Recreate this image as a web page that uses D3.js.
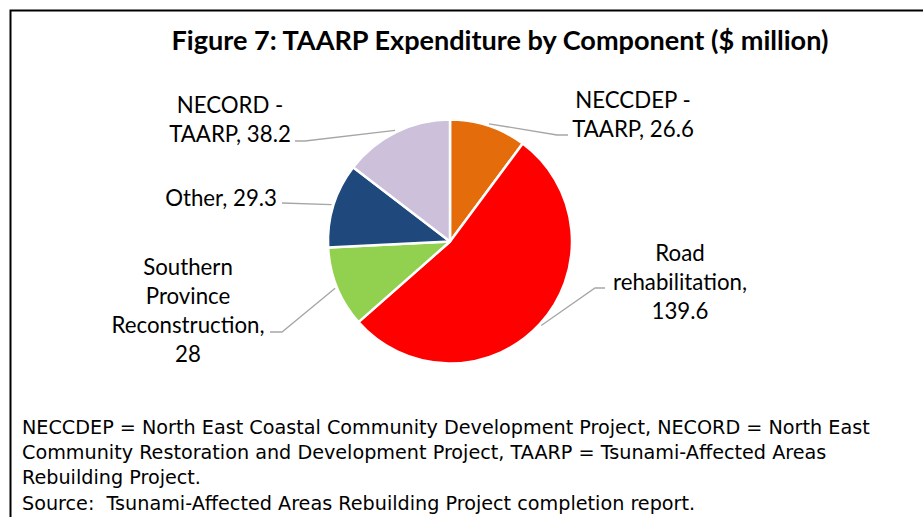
<!DOCTYPE html>
<html>
<head>
<meta charset="utf-8">
<script src="https://cdn.jsdelivr.net/npm/d3@7"></script>
<style>
  html, body { margin: 0; padding: 0; background: #fff; }
  svg { display: block; }
  text { white-space: pre; }
</style>
</head>
<body>
<svg id="chart" width="923" height="517"></svg>
<script>
// ---- Data ----
const categories = ["NECCDEP - TAARP", "Road rehabilitation", "Southern Province Reconstruction", "Other", "NECORD - TAARP"];
const values = [26.6, 139.6, 28, 29.3, 38.2];
const colors = ["#E46C0A", "#FF0000", "#92D050", "#1F497D", "#CCC0DA"];
const labelLines = [
  ["NECCDEP -", "TAARP, 26.6"],
  ["Road", "rehabilitation,", "139.6"],
  ["Southern", "Province", "Reconstruction,", "28"],
  ["Other, 29.3"],
  ["NECORD -", "TAARP, 38.2"]
];
const titleText = "Figure 7: TAARP Expenditure by Component ($ million)";
const footnotes = [
  "NECCDEP = North East Coastal Community Development Project, NECORD = North East",
  "Community Restoration and Development Project, TAARP = Tsunami-Affected Areas",
  "Rebuilding Project.",
  "Source:  Tsunami-Affected Areas Rebuilding Project completion report."
];

// ---- Layout ----
const svg = d3.select("#chart");
const cx = 450, cy = 241.5, R = 122;

function fitWidth(sel, target, base) {
  sel.attr("font-size", base);
  const w = sel.node().getComputedTextLength();
  const fs = base * target / w;
  sel.attr("font-size", fs);
  return fs;
}

// frame
svg.append("path")
  .attr("d", "M10.5,517 L10.5,10.5 L923,10.5")
  .attr("fill", "none").attr("stroke", "#000").attr("stroke-width", 2);

const title = svg.append("text")
  .attr("x", 500).attr("y", 50)
  .attr("text-anchor", "middle")
  .attr("font-family", "Lato, sans-serif")
  .attr("font-weight", "bold")
  .attr("fill", "#000")
  .text(titleText);
fitWidth(title, 657, 24);

const data = categories.map((c, i) => ({ name: c, value: values[i], color: colors[i], lines: labelLines[i] }));
const pie = d3.pie().value(d => d.value).sort(null);
const arcs = pie(data);
const arc = d3.arc().innerRadius(0).outerRadius(R);
const g = svg.append("g").attr("transform", `translate(${cx},${cy})`);

g.selectAll("path.slice").data(arcs).enter().append("path")
  .attr("class", "slice")
  .attr("d", arc)
  .attr("fill", d => d.data.color)
  .attr("stroke", "#fff").attr("stroke-width", 2.5)
  .attr("stroke-linejoin", "round");

const probe = svg.append("text").attr("font-family", "Lato, sans-serif").text("Reconstruction,");
const labelFs = fitWidth(probe, 153, 19);
probe.remove();

// label placement (layout only)
const labelPos = [
  { x: 633, y: 100, anchor: "middle", elbow: [[557, 135], [568, 135]] },
  { x: 680, y: 253, anchor: "middle", elbow: [[595, 288], [605, 288]] },
  { x: 188, y: 267, anchor: "middle", elbow: [[282, 332], [270, 332]] },
  { x: 277, y: 198, anchor: "end", elbow: [[282, 203]] },
  { x: 230, y: 105, anchor: "middle", elbow: [[305, 141], [295, 141]] }
];
const lineH = 29;

arcs.forEach((a, i) => {
  const mid = (a.startAngle + a.endAngle) / 2;
  const r0 = R + 2;
  const sx = cx + r0 * Math.sin(mid), sy = cy - r0 * Math.cos(mid);
  const pts = [[sx, sy]].concat(labelPos[i].elbow);
  svg.append("path")
    .attr("d", d3.line()(pts))
    .attr("fill", "none").attr("stroke", "#A6A6A6").attr("stroke-width", 1.3);
  const t = svg.append("text")
    .attr("text-anchor", labelPos[i].anchor)
    .attr("font-family", "Lato, sans-serif")
    .attr("font-size", labelFs)
    .attr("fill", "#000");
  a.data.lines.forEach((ln, j) => {
    t.append("tspan").attr("x", labelPos[i].x).attr("y", labelPos[i].y + j * lineH)
      .attr("dy", "0.35em").text(ln);
  });
});

const footFont = "'DejaVu Sans', sans-serif";
const fprobe = svg.append("text").attr("font-family", footFont).text(footnotes[0]);
const footFs = fitWidth(fprobe, 848, 17);
fprobe.remove();

footnotes.forEach((f, i) => {
  svg.append("text")
    .attr("x", 22).attr("y", 427 + i * 25.3)
    .attr("dy", "0.35em")
    .attr("font-family", footFont)
    .attr("font-size", footFs)
    .attr("fill", "#000")
    .text(f);
});
</script>
</body>
</html>
